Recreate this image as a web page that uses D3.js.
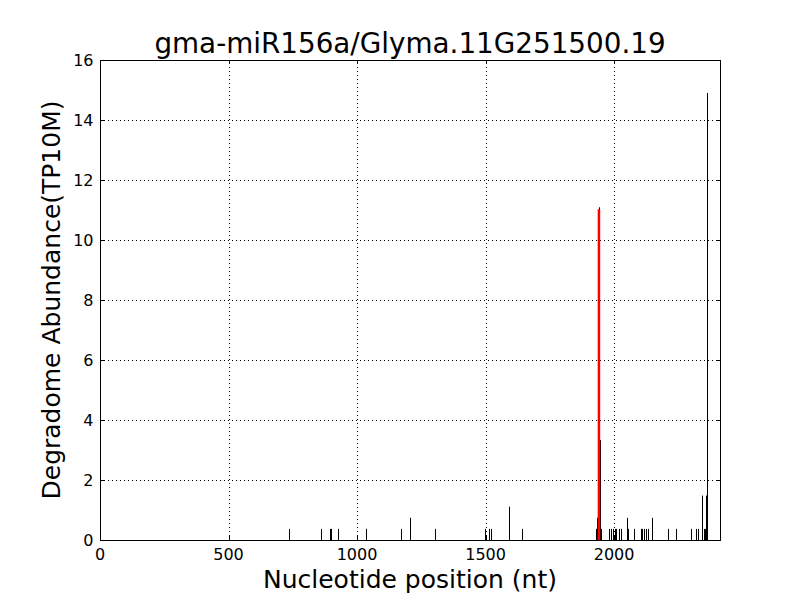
<!DOCTYPE html>
<html>
<head>
<meta charset="utf-8">
<script src="https://cdn.jsdelivr.net/npm/d3@7"></script>
<style>
  body { margin: 0; background: #fff; }
  svg { font-family: "DejaVu Sans", sans-serif; }
</style>
</head>
<body>
<script>
// degradome peaks (position in nt, abundance in TP10M)
var positions = [736, 861, 893, 897, 927, 1033, 1036, 1172, 1206, 1304,
                 1499, 1512, 1520, 1592, 1642, 1931, 1935, 1941, 1945, 1948,
                 1981, 1987, 1994, 2005, 2009, 2019, 2025, 2049, 2054, 2077,
                 2103, 2110, 2118, 2124, 2132, 2147, 2208, 2242, 2299, 2320,
                 2328, 2343, 2350, 2354, 2357, 2362];
var abundance = [0.37, 0.37, 0.37, 0.37, 0.37, 0.37, 0.37, 0.37, 0.74, 0.37,
                 0.37, 0.37, 0.37, 1.11, 0.37, 0.37, 0.74, 11.09, 3.33, 0.37,
                 0.37, 0.37, 0.37, 0.37, 0.37, 0.37, 0.37, 0.74, 0.37, 0.37,
                 0.37, 0.37, 0.37, 0.37, 0.37, 0.74, 0.37, 0.37, 0.37, 0.37,
                 0.37, 1.48, 0.37, 0.37, 1.48, 14.9];
// cleavage site predicted for the miRNA
var sitePos = 1941;
var siteValue = 11.09;

var xTicks = [0, 500, 1000, 1500, 2000];
var yTicks = [0, 2, 4, 6, 8, 10, 12, 14, 16];
var xMax = 2412;

var width = 800, height = 600;
var margin = {left: 100, right: 80, top: 60, bottom: 60};

var svg = d3.select("body").append("svg")
    .attr("width", width)
    .attr("height", height);

var x = d3.scaleLinear().domain([0, xMax]).range([margin.left, width - margin.right]);
var y = d3.scaleLinear().domain([0, 16]).range([height - margin.bottom, margin.top]);

var crisp = function(v) { return Math.round(v) + 0.5; };

// grid
svg.append("g").selectAll("line").data(xTicks.slice(1)).enter().append("line")
    .attr("x1", function(d) { return crisp(x(d)); })
    .attr("x2", function(d) { return crisp(x(d)); })
    .attr("y1", y(0)).attr("y2", y(16))
    .attr("stroke", "#000").attr("stroke-dasharray", "1,3");
svg.append("g").selectAll("line").data(yTicks.slice(1, -1)).enter().append("line")
    .attr("y1", function(d) { return crisp(y(d)); })
    .attr("y2", function(d) { return crisp(y(d)); })
    .attr("x1", x(0)).attr("x2", x(xMax))
    .attr("stroke", "#000").attr("stroke-dasharray", "1,3");

// bars
svg.append("g").selectAll("line").data(positions).enter().append("line")
    .attr("x1", function(d) { return crisp(x(d)); })
    .attr("x2", function(d) { return crisp(x(d)); })
    .attr("y1", y(0))
    .attr("y2", function(d, i) { return y(abundance[i]); })
    .attr("stroke", "#000").attr("stroke-width", 1);

// red target line
svg.append("line")
    .attr("x1", x(sitePos)).attr("x2", x(sitePos))
    .attr("y1", y(0)).attr("y2", y(siteValue) + 2)
    .attr("stroke", "#ff0000").attr("stroke-width", 2.5);

// frame
svg.append("rect")
    .attr("x", x(0) + 0.5).attr("y", y(16) + 0.5)
    .attr("width", x(xMax) - x(0)).attr("height", y(0) - y(16))
    .attr("fill", "none").attr("stroke", "#000");

// ticks inside, all four sides
var tickLen = 4;
var ticks = svg.append("g").attr("stroke", "#000");
xTicks.forEach(function(t) {
    var px = crisp(x(t));
    ticks.append("line").attr("x1", px).attr("x2", px).attr("y1", y(0)).attr("y2", y(0) - tickLen);
    ticks.append("line").attr("x1", px).attr("x2", px).attr("y1", y(16)).attr("y2", y(16) + tickLen);
});
yTicks.forEach(function(t) {
    var py = crisp(y(t));
    ticks.append("line").attr("y1", py).attr("y2", py).attr("x1", x(0)).attr("x2", x(0) + tickLen);
    ticks.append("line").attr("y1", py).attr("y2", py).attr("x1", x(xMax)).attr("x2", x(xMax) - tickLen);
});

// tick labels
svg.append("g").selectAll("text").data(xTicks).enter().append("text")
    .attr("x", function(d) { return x(d); })
    .attr("y", y(0) + 19.5)
    .attr("text-anchor", "middle")
    .style("font-size", "16px")
    .text(function(d) { return d; });
svg.append("g").selectAll("text").data(yTicks).enter().append("text")
    .attr("x", x(0) - 6.5)
    .attr("y", function(d) { return y(d) + 5.8; })
    .attr("text-anchor", "end")
    .style("font-size", "16px")
    .text(function(d) { return d; });

// titles
svg.append("text")
    .attr("x", (x(0) + x(xMax)) / 2).attr("y", 53)
    .attr("text-anchor", "middle")
    .style("font-size", "27.8px")
    .text("gma-miR156a/Glyma.11G251500.19");
svg.append("text")
    .attr("x", (x(0) + x(xMax)) / 2).attr("y", 588)
    .attr("text-anchor", "middle")
    .style("font-size", "25px")
    .text("Nucleotide position (nt)");
svg.append("text")
    .attr("transform", "translate(60," + (y(0) + y(16)) / 2 + ") rotate(-90)")
    .attr("text-anchor", "middle")
    .style("font-size", "25px")
    .text("Degradome Abundance(TP10M)");
</script>
</body>
</html>
